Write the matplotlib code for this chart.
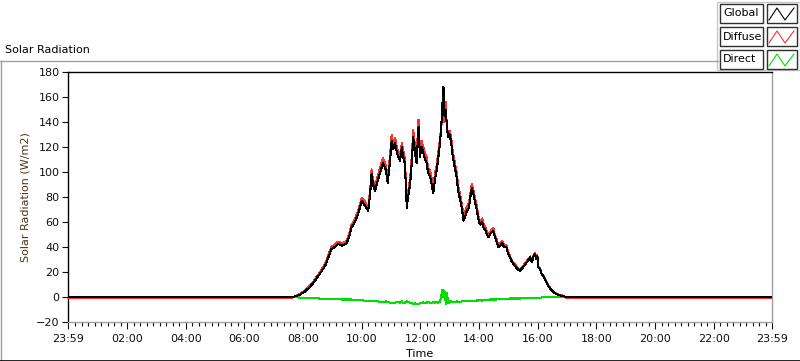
import matplotlib
matplotlib.use("Agg")
import matplotlib.pyplot as plt
from matplotlib.patches import Rectangle
from matplotlib.lines import Line2D
import numpy as np

# time of day in minutes (-1 = 23:59 of the previous day)
minutes = [
    -1, 457, 463, 474, 484, 494, 504, 514, 525, 531,
    538, 545, 551, 559, 569, 574, 579, 586, 592, 600,
    605, 613, 617, 620, 623, 627, 633, 637, 643, 649,
    653, 658, 661, 664, 668, 672, 678, 682, 684, 688,
    692, 694, 699, 703, 705, 709, 712, 716, 719, 722,
    725, 729, 733, 735, 740, 743, 746, 750, 753, 756,
    760, 763, 765, 767, 769, 772, 774, 777, 780, 784,
    786, 790, 794, 797, 801, 805, 808, 811, 814, 819,
    822, 825, 828, 832, 835, 839, 842, 846, 849, 853,
    856, 859, 862, 866, 869, 872, 876, 879, 883, 887,
    891, 896, 899, 903, 907, 911, 915, 919, 924, 928,
    932, 936, 940, 944, 948, 951, 954, 957, 959, 961,
    965, 968, 971, 975, 981, 987, 995, 1003, 1012, 1018,
    1439,
]

global_rad = [
    0, 0, 0.5, 2, 4.5, 8, 13, 18.5, 25, 31,
    38.5, 40, 42.5, 41, 43, 48, 55.7, 60, 66, 77,
    74, 69, 82, 98.7, 90, 85, 94, 98.7, 107, 102,
    91, 110, 125, 118, 123, 115, 109, 120, 113, 107,
    71.5, 78, 91, 112, 128, 115, 107, 136, 112, 120,
    117, 110, 107, 100, 96, 90, 83, 95, 101, 110,
    123, 140, 155, 168, 145, 150, 135, 128, 130, 120,
    112, 104, 96, 85, 78, 70, 61, 64, 68, 71.5,
    80, 87.6, 83, 74.7, 70, 61, 58, 60, 55.7, 53,
    50, 47.7, 50, 52, 53, 48, 44, 39.6, 41, 43,
    40, 39.6, 35, 31.6, 28, 26, 24, 22, 21, 23,
    25, 27, 29, 31.6, 28, 32, 34.5, 30, 33, 23.6,
    22, 18, 17, 14, 9, 6, 3, 1.5, 0.8, 0,
    0,
]

diffuse_rad = [
    -0.8, -0.8, 0.5, 2.5, 5.3, 9, 14, 19.7, 26.5, 32.8,
    40.3, 41.8, 44.3, 43, 45, 50, 57.7, 62.5, 68.5, 79.5,
    77, 72, 85, 102.2, 93, 88, 97.5, 102.7, 111, 105.5,
    95, 114.5, 130, 122.5, 127.5, 119, 113.5, 123.5, 118, 111.5,
    75, 82, 95.5, 117, 133.5, 120, 112.5, 142, 116.5, 125,
    121, 115, 111.5, 104, 100.5, 95, 87, 99.5, 105, 114.5,
    127, 138, 149, 168, 140, 156, 132, 133, 133, 124,
    116, 108, 99.5, 89, 82, 73.5, 64.5, 67.5, 71, 75,
    83, 90.6, 86, 77.7, 72.8, 63.8, 60.5, 62.8, 58.2, 55.5,
    52.5, 50.2, 52, 54, 55, 50, 46, 41.4, 42.8, 44.8,
    41.8, 41.4, 36.5, 32.8, 29.2, 27.2, 25.2, 23.2, 22.2, 24,
    26, 28, 30, 32.4, 28.8, 32.8, 35.3, 30.8, 33.8, 24.4,
    22.8, 18.3, 17.3, 14.3, 9.3, 6.3, 3.3, 1.8, 1.1, -0.8,
    -0.8,
]

direct_rad = [
    0, 0, 0, -0.5, -0.8, -1, -1, -1.2, -1.5, -1.8,
    -1.8, -1.8, -1.8, -2, -2, -2, -2, -2.5, -2.5, -2.5,
    -3, -3, -3, -3.5, -3, -3, -3.5, -4, -4, -3.5,
    -4, -4.5, -5, -4.5, -4.5, -4, -4.5, -3.5, -5, -4.5,
    -3.5, -4, -4.5, -5, -5.5, -5, -5.5, -6, -4.5, -5,
    -4, -5, -4.5, -4, -4.5, -5, -4, -4.5, -4, -4.5,
    -4, 2, 6, 0, 5, -6, 3, -5, -3, -4,
    -4, -4, -3.5, -4, -4, -3.5, -3.5, -3.5, -3, -3.5,
    -3, -3, -3, -3, -2.8, -2.8, -2.5, -2.8, -2.5, -2.5,
    -2.5, -2.5, -2, -2, -2, -2, -2, -1.8, -1.8, -1.8,
    -1.8, -1.8, -1.5, -1.2, -1.2, -1.2, -1.2, -1.2, -1.2, -1,
    -1, -1, -1, -0.8, -0.8, -0.8, -0.8, -0.8, -0.8, -0.8,
    -0.8, -0.3, -0.3, -0.3, -0.3, -0.3, -0.3, -0.3, -0.3, 0,
    0,
]

tick_minutes = [-1, 120, 240, 360, 480, 600, 720, 840, 960, 1080, 1200, 1320, 1439]
tick_labels = ["23:59", "02:00", "04:00", "06:00", "08:00", "10:00", "12:00",
               "14:00", "16:00", "18:00", "20:00", "22:00", "23:59"]
y_ticks = [-20, 0, 20, 40, 60, 80, 100, 120, 140, 160, 180]
series_names = ["Global", "Diffuse", "Direct"]
series_colors = ["#000000", "#ff3030", "#00e000"]

W, H = 800, 361
plt.rcParams['font.family'] = ['DejaVu Sans']
fig = plt.figure(figsize=(W / 100, H / 100), dpi=100)
fig.patch.set_facecolor("white")


def px(x, y):
    return x / W, 1 - y / H


ax = fig.add_axes([68 / W, 1 - 322 / H, (772 - 68) / W, (322 - 72) / H])
ax.plot(minutes, direct_rad, color=series_colors[2], lw=0.75, antialiased=False, zorder=2)
ax.plot(minutes, diffuse_rad, color=series_colors[1], lw=0.75, antialiased=False, zorder=3)
ax.plot(minutes, global_rad, color=series_colors[0], lw=0.75, antialiased=False, zorder=4)

ax.set_xlim(-1, 1439)
ax.set_ylim(-20, 180)
ax.set_yticks(y_ticks)
ax.set_xticks(tick_minutes)
ax.set_xticklabels(tick_labels)
minor = [m for m in np.arange(0, 1440, 120 / 9) if min(abs(m - t) for t in tick_minutes) > 3]
ax.set_xticks(minor, minor=True)
ax.tick_params(axis="both", which="major", labelsize=8, colors="#101010", width=0.8)
ax.tick_params(axis="y", length=4, pad=2)
ax.tick_params(axis="x", which="major", length=5, pad=4)
ax.tick_params(axis="x", which="minor", length=3, width=0.8, color="#101010")

ax.spines["left"].set_color("black")
ax.spines["top"].set_color("black")
ax.spines["bottom"].set_color("#a0a0a0")
ax.spines["right"].set_color("#a0a0a0")
for s in ax.spines.values():
    s.set_linewidth(1.0)

ax.set_xlabel("Time", fontsize=8, labelpad=3)
ax.set_ylabel("Solar Radiation (W/m2)", fontsize=8, color="#4d3319", labelpad=4)

# outer frame of the chart panel
fig.add_artist(Line2D([0, 718 / W], [1 - 61 / H] * 2, color="#a0a0a0", lw=1))
fig.add_artist(Line2D([0.5 / W] * 2, [0, 1 - 61 / H], color="#a0a0a0", lw=1))
fig.add_artist(Line2D([0, 1], [0.5 / H] * 2, color="black", lw=1.2))
fig.text(5 / W, 1 - 50 / H, "Solar Radiation", fontsize=8, va="center", ha="left")

# legend panel
fig.add_artist(Rectangle(px(717, 70), 83 / W, 68 / H, facecolor="#fbfbfb",
                         edgecolor="#c8c8c8", lw=1))
for i, (name, col) in enumerate(zip(series_names, series_colors)):
    top = 4 + i * 23
    x0, y0 = px(720, top + 19)
    fig.add_artist(Rectangle((x0, y0), 43 / W, 19 / H, facecolor="white",
                             edgecolor="#303030", lw=1))
    fig.text(723 / W, 1 - (top + 9.5) / H, name, fontsize=8, va="center", ha="left")
    x1, y1 = px(767, top + 19)
    fig.add_artist(Rectangle((x1, y1), 30 / W, 19 / H, facecolor="white",
                             edgecolor="#303030", lw=1))
    zx = [769, 777, 785, 794]
    zy = [top + 16, top + 4, top + 16, top + 4]
    fig.add_artist(Line2D([v / W for v in zx], [1 - v / H for v in zy], color=col, lw=0.8))

fig.savefig("out.png", dpi=100)
